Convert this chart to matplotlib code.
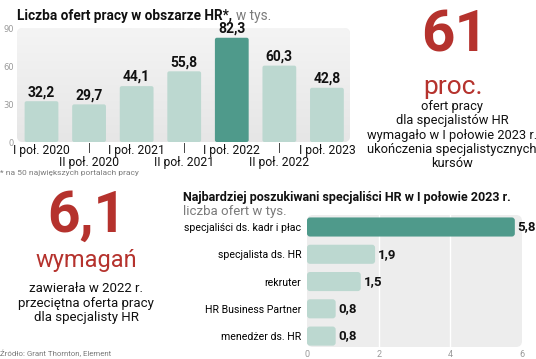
import matplotlib
matplotlib.use('Agg')
import matplotlib.pyplot as plt
from matplotlib.patches import FancyBboxPatch
from matplotlib.colors import LinearSegmentedColormap
import numpy as np

# --- data ---
periods = ['I poł. 2020', 'II poł. 2020', 'I poł. 2021', 'II poł. 2021',
           'I poł. 2022', 'II poł. 2022', 'I poł. 2023']
offers = [32.2, 29.7, 44.1, 55.8, 82.3, 60.3, 42.8]
offer_ticks = [0, 30, 60, 90]

roles = ['specjaliści ds. kadr i płac', 'specjalista ds. HR', 'rekruter',
         'HR Business Partner', 'menedżer ds. HR']
role_offers = [5.8, 1.9, 1.5, 0.8, 0.8]
role_ticks = [0, 2, 4, 6]

DARK = '#4f9a8b'
LIGHT = '#bcd8d0'
RED = '#b5322d'
GRAY = '#7a7a7a'
NARROW = ['Liberation Sans Narrow', 'Roboto', 'DejaVu Sans']

W, H = 536, 359
fig = plt.figure(figsize=(W / 100, H / 100), dpi=100)
fig.patch.set_facecolor('white')


def fx(x):
    return x / W


def fy(y):
    return 1 - y / H


def txt(x, y, s, **kw):
    kw.setdefault('family', NARROW)
    return fig.text(fx(x), fy(y), s, **kw)


def comma(v):
    return f'{v:.1f}'.replace('.', ',')


def rounded_bg(ax, color, r_px=6):
    bb = ax.get_position()
    wpx, hpx = bb.width * W, bb.height * H
    p = FancyBboxPatch((0, 0), 1, 1, transform=ax.transAxes,
                       boxstyle=f'round,pad=0,rounding_size={r_px / wpx}',
                       mutation_aspect=wpx / hpx, fc=color, ec='none',
                       zorder=0, clip_on=False)
    ax.add_patch(p)
    return p


def round_bars(ax, bars, r_px=2):
    # swap plain rectangles for rounded ones of the same geometry
    bb = ax.get_position()
    x0, x1 = ax.get_xlim()
    y0, y1 = ax.get_ylim()
    xpp = abs(x1 - x0) / (bb.width * W)
    ypp = abs(y1 - y0) / (bb.height * H)
    for r in bars:
        p = FancyBboxPatch((r.get_x(), r.get_y()), r.get_width(), r.get_height(),
                           boxstyle=f'round,pad=0,rounding_size={r_px * xpp}',
                           mutation_aspect=ypp / xpp, fc=r.get_facecolor(),
                           ec='none', zorder=2)
        ax.add_patch(p)
        r.set_visible(False)


# --- top chart: offers per half-year ---
ax1 = fig.add_axes([fx(17), fy(142), (350 - 17) / W, (142 - 28) / H])
bg = rounded_bg(ax1, '#ececec')
cmap = LinearSegmentedColormap.from_list('bg', ['#e6e6e6', '#f4f4f4'])
grad = np.linspace(0, 1, 100).reshape(-1, 1)
im = ax1.imshow(grad, extent=[-0.515, 6.485, 0, 90], origin='lower',
                aspect='auto', cmap=cmap, zorder=0.5)
im.set_clip_path(bg)
ax1.set_xlim(-0.515, 6.485)
ax1.set_ylim(0, 90)

cols = [DARK if v == max(offers) else LIGHT for v in offers]
bars1 = ax1.bar(range(len(offers)), offers, width=0.71, color=cols, zorder=2)
round_bars(ax1, bars1, 2)
for i, v in enumerate(offers):
    ax1.annotate(comma(v), (i, v), xytext=(0, 1.5), textcoords='offset points',
                 ha='center', va='bottom', fontsize=10, weight='bold',
                 family=NARROW, color='#111111')
for s in ax1.spines.values():
    s.set_visible(False)
ax1.set_xticks([])
ax1.set_yticks(offer_ticks)
ax1.tick_params(axis='y', length=0, labelsize=6, labelcolor='#999999', pad=2)
tr = ax1.get_xaxis_transform()
for i, lab in enumerate(periods):
    if i % 2 == 0:
        ax1.text(i, -0.075, lab, transform=tr, ha='center', va='center',
                 fontsize=8.7, family=NARROW, color='#111111')
    else:
        ax1.plot([i, i], [-0.01, -0.085], transform=tr, color='#444444',
                 lw=0.7, clip_on=False)
        ax1.text(i, -0.18, lab, transform=tr, ha='center', va='center',
                 fontsize=8.7, family=NARROW, color='#111111')

t = txt(17, 16, 'Liczba ofert pracy w obszarze HR*,', fontsize=9.8,
        weight='bold', va='center', color='#111111')
fig.canvas.draw()
bb = t.get_window_extent()
txt(bb.x1 + 4, 16, 'w tys.', fontsize=9.8, va='center', color=GRAY)
txt(0, 173, '* na 50 największych portalach pracy', fontsize=6,
    va='center', color=GRAY)

# --- right top callout ---
txt(455, 36, '61', fontsize=42, weight='bold', ha='center', va='center',
    color=RED, family=['Roboto', 'DejaVu Sans'])
txt(453, 87, 'proc.', fontsize=19, ha='center', va='center', color=RED)
txt(452, 135, 'ofert pracy\ndla specjalistów HR\nwymagało w I połowie 2023 r.\n'
    'ukończenia specjalistycznych\nkursów', fontsize=9.3, ha='center',
    va='center', linespacing=1.12, color='#111111')

# --- bottom left callout ---
txt(87, 216, '6,1', fontsize=41, weight='bold', ha='center', va='center',
    color=RED, family=['Roboto', 'DejaVu Sans'])
txt(86, 261, 'wymagań', fontsize=17, ha='center', va='center', color=RED)
txt(86, 303, 'zawierała w 2022 r.\nprzeciętna oferta pracy\ndla specjalisty HR',
    fontsize=9.5, ha='center', va='center', linespacing=1.15,
    color='#111111')
txt(0, 353, 'Źródło: Grant Thornton, Element', fontsize=5.7, va='center',
    color=GRAY)

# --- bottom right chart: roles ---
ax2 = fig.add_axes([fx(307), fy(347), (522 - 307) / W, (347 - 215) / H])
ax2.set_xlim(0, 6)
ax2.set_ylim(4.4, -0.44)
rounded_bg(ax2, '#ededed')
for g in role_ticks[1:-1]:
    ax2.axvline(g, color='white', lw=1, zorder=1)
rcols = [DARK if v == max(role_offers) else LIGHT for v in role_offers]
bars2 = ax2.barh(range(len(roles)), role_offers, height=0.7, color=rcols,
                 zorder=2)
round_bars(ax2, bars2, 3)
for i, v in enumerate(role_offers):
    ax2.annotate(comma(v), (v, i), xytext=(2, 0), textcoords='offset points',
                 ha='left', va='center', fontsize=9.5, weight='bold',
                 family=NARROW, color='#111111', annotation_clip=False)
for s in ax2.spines.values():
    s.set_visible(False)
ax2.set_yticks(range(len(roles)), roles)
ax2.set_xticks(role_ticks)
ax2.tick_params(axis='y', length=0, pad=4, labelsize=7.6)
ax2.tick_params(axis='x', length=0, pad=2, labelsize=6.5,
                labelcolor='#999999')
for lab in ax2.get_yticklabels() + ax2.get_xticklabels():
    lab.set_family(NARROW)

txt(183, 197, 'Najbardziej poszukiwani specjaliści HR w I połowie 2023 r.',
    fontsize=9, weight='bold', va='center', color='#111111')
txt(183, 211, 'liczba ofert w tys.', fontsize=9.5, va='center', color=GRAY)

fig.savefig('out.png', dpi=100)
